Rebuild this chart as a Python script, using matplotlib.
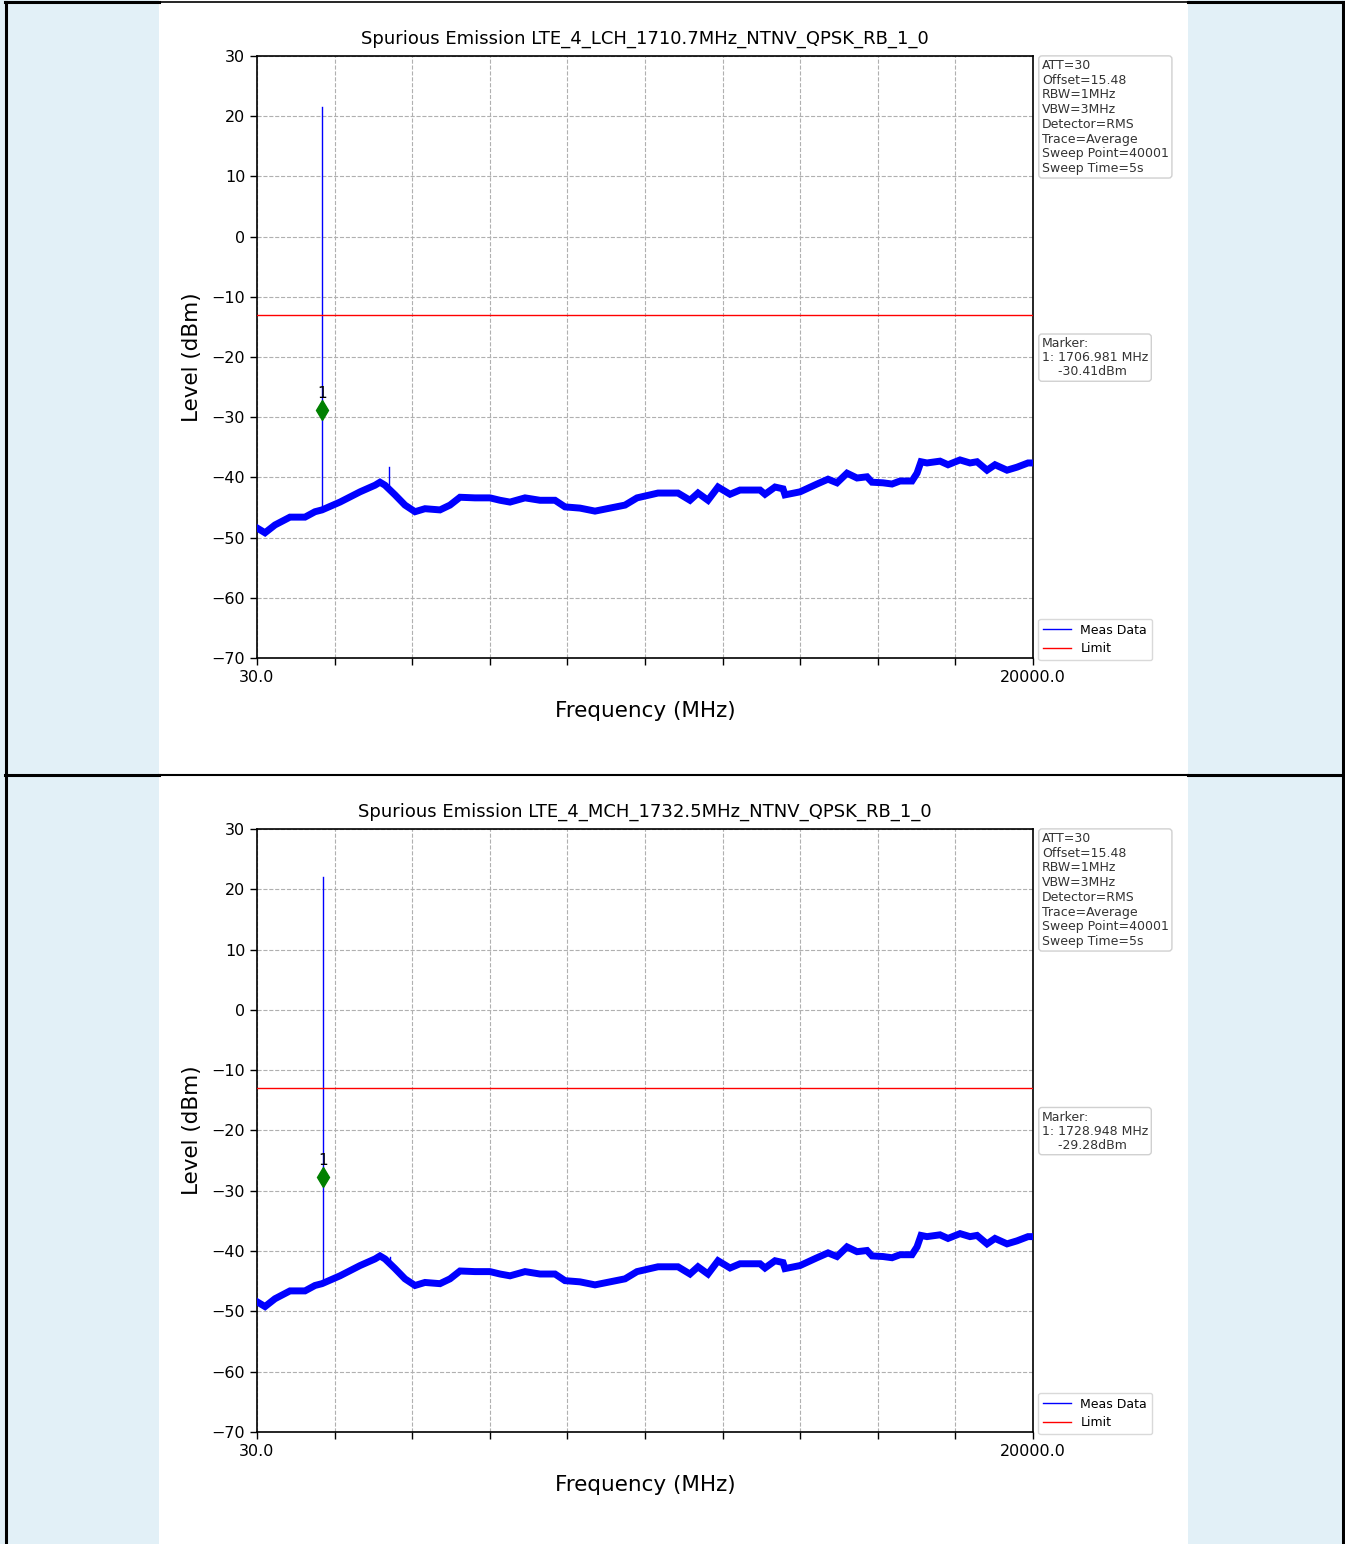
import matplotlib
matplotlib.use("Agg")
import matplotlib.pyplot as plt
from matplotlib.lines import Line2D
from matplotlib.patches import Rectangle

# ---------------- data ----------------
x_min, x_max = 30.0, 20000.0
y_ticks = [-70, -60, -50, -40, -30, -20, -10, 0, 10, 20, 30]
limit_level = -13.0

trace_freq = [30, 236, 493, 879, 1265, 1523, 1703, 2166, 2681, 3067, 3195, 3324,
              3581, 3838, 4096, 4353, 4739, 4997, 5254, 5640, 6026, 6284, 6541,
              6927, 7313, 7699, 7956, 8342, 8728, 9114, 9501, 9810, 10350, 10864,
              11173, 11379, 11636, 11894, 12203, 12460, 12975, 13103, 13361, 13567,
              13618, 14004, 14442, 14725, 14956, 15214, 15471, 15728, 15857, 16140,
              16372, 16578, 16886, 17015, 17118, 17272, 17607, 17813, 18122, 18379,
              18559, 18817, 19022, 19331, 19589, 19872, 20000]
trace_level = [-48.4, -49.2, -47.9, -46.6, -46.6, -45.7, -45.4, -44.1, -42.4, -41.3,
               -40.8, -41.3, -42.9, -44.6, -45.7, -45.2, -45.4, -44.6, -43.3, -43.4,
               -43.4, -43.8, -44.1, -43.4, -43.8, -43.8, -44.9, -45.1, -45.6, -45.1,
               -44.6, -43.4, -42.6, -42.6, -43.8, -42.6, -43.8, -41.6, -42.8, -42.1,
               -42.1, -42.8, -41.6, -41.9, -42.9, -42.4, -41.1, -40.3, -40.9, -39.3,
               -40.1, -39.9, -40.8, -40.9, -41.1, -40.6, -40.6, -39.3, -37.4, -37.6,
               -37.3, -37.9, -37.1, -37.6, -37.4, -38.8, -37.9, -38.8, -38.3, -37.6,
               -37.6]

panel_titles = ["Spurious Emission LTE_4_LCH_1710.7MHz_NTNV_QPSK_RB_1_0",
                "Spurious Emission LTE_4_MCH_1732.5MHz_NTNV_QPSK_RB_1_0"]
carrier_freq = [1710.7, 1732.5]
carrier_peak = [21.5, 22.0]
harmonic_freq = [3421.4, 3465.0]
harmonic_peak = [-38.3, -41.0]
marker_freq = [1706.981, 1728.948]
marker_level_text = ["-30.41dBm", "-29.28dBm"]
marker_plot_level = [-28.8, -27.7]

info_text = ("ATT=30\nOffset=15.48\nRBW=1MHz\nVBW=3MHz\nDetector=RMS\n"
             "Trace=Average\nSweep Point=40001\nSweep Time=5s")

# ---------------- figure ----------------
W, H = 1345, 1544
fig = plt.figure(figsize=(W / 100, H / 100), dpi=100)
fig.patch.set_facecolor("#e2f0f7")
fig.patches.append(Rectangle((159 / W, 0), (1188 - 159) / W, 1,
                             transform=fig.transFigure, facecolor="white",
                             edgecolor="none", zorder=-5))

def hline(y, x0, x1, lw):
    fig.add_artist(Line2D([x0 / W, x1 / W], [1 - y / H, 1 - y / H], color="black", lw=lw))

def vline(x, y0, y1, lw):
    fig.add_artist(Line2D([x / W, x / W], [1 - y0 / H, 1 - y1 / H], color="black", lw=lw))

hline(2, 5, 159, 2.2); hline(2, 159, 1188, 1.2); hline(2, 1188, 1343, 2.2)
hline(774.5, 5, 159, 2.2); hline(774.5, 159, 1188, 1.5); hline(774.5, 1188, 1343, 2.2)
vline(5.5, 2, 1544, 2.2)
vline(1342.5, 2, 1544, 2.2)

ax_left = 257 / W
ax_w = (1033 - 257) / W
panel_px = [(56, 658), (829, 1432)]

xticks = [x_min + k * (x_max - x_min) / 10 for k in range(11)]
xticklabels = ["30.0"] + [""] * 9 + ["20000.0"]

for i, (top, bot) in enumerate(panel_px):
    ax = fig.add_axes([ax_left, 1 - bot / H, ax_w, (bot - top) / H])
    ax.set_xlim(x_min, x_max)
    ax.set_ylim(-70, 30)
    ax.set_xticks(xticks)
    ax.set_xticklabels(xticklabels)
    ax.set_yticks(y_ticks)
    ax.tick_params(labelsize=11.5, length=5, width=1)
    ax.grid(True, linestyle="--", color="#b0b0b0", linewidth=0.8)
    for s in ax.spines.values():
        s.set_linewidth(1.2)

    # spikes (thin)
    ax.plot([carrier_freq[i]] * 2, [-45.2, carrier_peak[i]], color="blue", lw=1.0,
            label="Meas Data", zorder=3)
    ax.plot([harmonic_freq[i]] * 2, [-41.5, harmonic_peak[i]], color="blue", lw=1.0, zorder=3)
    # trace band
    ax.plot(trace_freq, trace_level, color="blue", lw=5.0, zorder=3, solid_joinstyle="miter")
    ax.axhline(limit_level, color="red", lw=1.0, label="Limit", zorder=3)

    ax.plot(marker_freq[i], marker_plot_level[i], marker="d", color="green",
            markersize=10, zorder=4)
    ax.text(marker_freq[i], marker_plot_level[i] + 1.5, "1", ha="center", va="bottom",
            fontsize=11, zorder=4)

    ax.set_title(panel_titles[i], fontsize=13, pad=9)
    ax.set_xlabel("Frequency (MHz)", fontsize=15.5, labelpad=12)
    ax.set_ylabel("Level (dBm)", fontsize=15.5, labelpad=7)

    box = dict(boxstyle="round,pad=0.25", facecolor="white", edgecolor="#d0d0d0", lw=1)
    ax.text(1.0115, 0.995, info_text, transform=ax.transAxes, ha="left", va="top",
            fontsize=9, color="#333333", bbox=box, linespacing=1.17)
    ax.text(1.0115, 0.533, "Marker:\n1: %.3f MHz\n    %s" % (marker_freq[i], marker_level_text[i]),
            transform=ax.transAxes, ha="left", va="top", fontsize=9, color="#333333",
            bbox=box, linespacing=1.1)
    ax.legend(loc="lower left", bbox_to_anchor=(1.0, -0.012), fontsize=9,
              frameon=True, fancybox=True, edgecolor="#d0d0d0", borderaxespad=0.4,
              handlelength=2.2, labelspacing=0.45)

fig.savefig("out.png", dpi=100)
